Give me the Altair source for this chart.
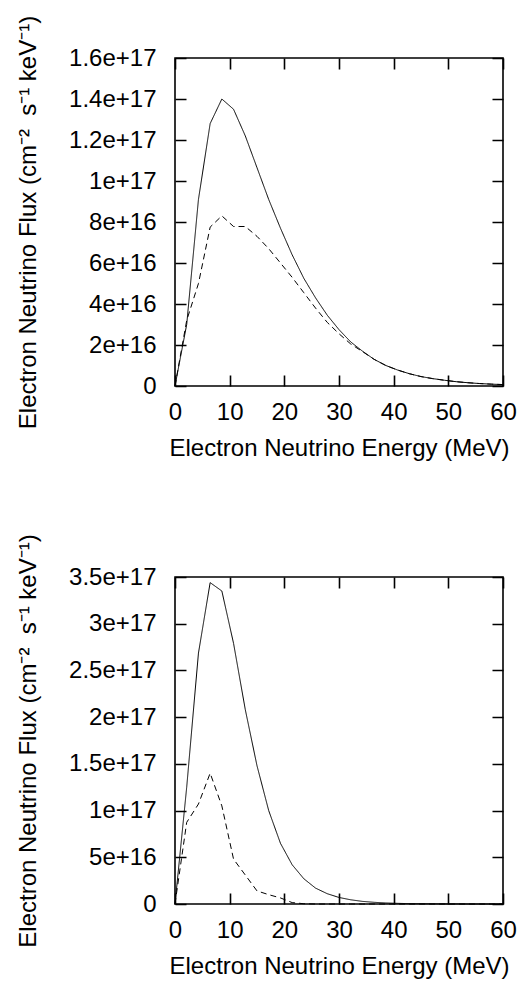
import altair as alt
import pandas as pd

FONT = "Liberation Sans"
FLUX_UNIT = 1e17  # flux arrays below are in units of 1e17 cm^-2 s^-1 keV^-1

ENERGY_MEV = [0.0, 2.14, 4.29, 6.43, 8.57, 10.71, 12.86, 15.0, 17.14, 19.29,
              21.43, 23.57, 25.71, 27.86, 30.0, 32.14, 34.29, 36.43, 38.57,
              40.71, 42.86, 45.0, 47.14, 49.29, 51.43, 53.57, 55.71, 57.86, 60.0]

UPPER_SOLID = [0.0, 0.30, 0.91, 1.28, 1.40, 1.35, 1.22, 1.065, 0.91, 0.77,
               0.64, 0.525, 0.43, 0.345, 0.275, 0.215, 0.17, 0.13, 0.10,
               0.078, 0.06, 0.046, 0.036, 0.028, 0.021, 0.016, 0.012, 0.009, 0.007]
UPPER_DASHED = [0.0, 0.32, 0.50, 0.775, 0.83, 0.778, 0.778, 0.73, 0.67, 0.60,
                0.53, 0.455, 0.38, 0.31, 0.255, 0.205, 0.168, 0.13, 0.10,
                0.078, 0.06, 0.046, 0.036, 0.028, 0.021, 0.016, 0.012, 0.009, 0.007]

LOWER_SOLID = [0.0, 1.25, 2.685, 3.44, 3.35, 2.79, 2.08, 1.48, 1.00, 0.65,
               0.42, 0.27, 0.17, 0.11, 0.07, 0.045, 0.028, 0.018, 0.011,
               0.007, 0.004, 0.003, 0.002, 0.001, 0.001, 0.0, 0.0, 0.0, 0.0]
LOWER_DASHED = [0.0, 0.874, 1.07, 1.40, 1.05, 0.48, 0.31, 0.14, 0.10, 0.065,
                0.015, 0.003, 0.0, 0.0, 0.0, 0.0, 0.0, 0.0, 0.0,
                0.0, 0.0, 0.0, 0.0, 0.0, 0.0, 0.0, 0.0, 0.0, 0.0]

X_TICKS = [0, 10, 20, 30, 40, 50, 60]
UPPER_Y_TICKS = [0, 2e16, 4e16, 6e16, 8e16, 1e17, 1.2e17, 1.4e17, 1.6e17]
LOWER_Y_TICKS = [0, 5e16, 1e17, 1.5e17, 2e17, 2.5e17, 3e17, 3.5e17]

X_TITLE = "Electron Neutrino Energy (MeV)"
Y_TITLE = ("Electron Neutrino Flux (cm\u207b\u00b2\u00a0\u00a0s\u207b\u00b9"
           "\u00a0keV\u207b\u00b9)")

W = 328
TICK_LEN = 11
TEXT_STYLE = dict(labelFont=FONT, labelFontSize=24, labelColor="black",
                  labelFlush=False, labelOverlap=False, titleFont=FONT,
                  titleFontSize=24, titleFontWeight="normal",
                  titleColor="black", domain=False, ticks=False, tickSize=0)


def tick_grid(span):
    # grid lines dashed so that only a short stub shows at each end:
    # these are the inward ticks on opposite sides of the frame
    return dict(grid=True, gridColor="black", gridWidth=1.6, gridOpacity=1,
                gridDash=[TICK_LEN, span - 2 * TICK_LEN, TICK_LEN])


def panel(solid, dashed, y_max, y_ticks, h):
    rows = []
    for e, s, d in zip(ENERGY_MEV, solid, dashed):
        rows.append({"energy": e, "flux": s * FLUX_UNIT, "series": "solid"})
        rows.append({"energy": e, "flux": d * FLUX_UNIT, "series": "dashed"})
    curves = pd.DataFrame(rows)

    x_axis = alt.Axis(
        values=X_TICKS, title=X_TITLE, labelPadding=33.5,
        labelBaseline="alphabetic", titleX=W / 2, titleY=69,
        titleAlign="center", titleBaseline="alphabetic",
        **TEXT_STYLE, **tick_grid(h))
    y_axis = alt.Axis(
        values=y_ticks, title=Y_TITLE, labelPadding=19,
        labelExpr="datum.value == 0 ? '0' : format(datum.value, '~e')",
        titleAngle=270, titleX=-139.5, titleY=h / 2, titleAlign="center",
        titleBaseline="alphabetic", **TEXT_STYLE, **tick_grid(W))

    return alt.Chart(curves).mark_line(color="black", strokeWidth=1).encode(
        x=alt.X("energy:Q", scale=alt.Scale(domain=[0, 60], nice=False,
                                            zero=False), axis=x_axis),
        y=alt.Y("flux:Q", scale=alt.Scale(domain=[0, y_max], nice=False),
                axis=y_axis),
        strokeDash=alt.StrokeDash(
            "series:N",
            scale=alt.Scale(domain=["solid", "dashed"], range=[[1, 0], [6, 4]]),
            legend=None,
        ),
        detail="series:N",
    ).properties(width=W, height=h)


upper = panel(UPPER_SOLID, UPPER_DASHED, 1.6e17, UPPER_Y_TICKS, 328)
lower = panel(LOWER_SOLID, LOWER_DASHED, 3.5e17, LOWER_Y_TICKS, 327)

chart = alt.vconcat(upper, lower, spacing=191, bounds="flush").properties(
    padding={"left": 15, "top": 14, "right": 0, "bottom": 0},
    background="white",
).configure_view(stroke="black", strokeWidth=1.6)

chart.save("out.html", embed_options={"renderer": "svg", "actions": False})
